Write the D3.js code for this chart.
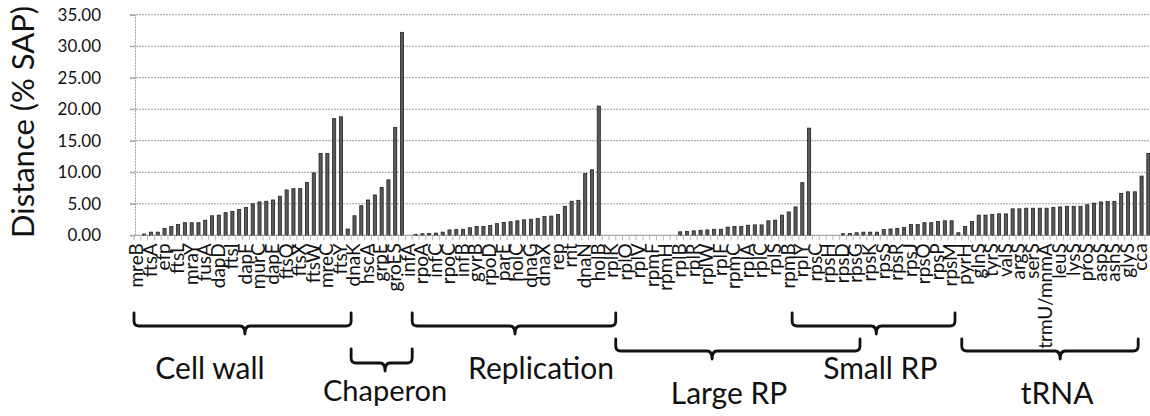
<!DOCTYPE html>
<html>
<head>
<meta charset="utf-8">
<script src="https://cdn.jsdelivr.net/npm/d3@7"></script>
<style>
  body { margin: 0; background: #fff; }
  svg { display: block; }
  text { font-family: Lato, "Open Sans", sans-serif; fill: #111; }
</style>
</head>
<body>
<svg id="chart" width="1150" height="416"></svg>
<script>
// Distance (% SAP) per gene, ordered by functional group (ascending within each group)
const values = [
  0,
  // cell wall
  0.2, 0.5, 0.5, 1.1, 1.4, 1.7, 2.0, 2.0, 2.0, 2.4,
  3.1, 3.2, 3.6, 3.8, 4.1, 4.4, 5.0, 5.3, 5.4, 5.6,
  6.2, 7.2, 7.4, 7.4, 8.4, 9.9, 13.0, 13.0, 18.5, 18.8,
  // chaperon
  1.0, 3.1, 4.7, 5.6, 6.4, 7.6, 8.8, 17.1, 32.2,
  0,
  // replication
  0.15, 0.25, 0.3, 0.35, 0.5, 0.85, 0.9, 0.95, 1.2, 1.4,
  1.4, 1.55, 1.85, 2.05, 2.15, 2.3, 2.45, 2.55, 2.65, 3.0,
  3.05, 3.3, 4.6, 5.4, 5.55, 9.8, 10.4, 20.5,
  // large ribosomal proteins
  0, 0, 0, 0, 0, 0, 0, 0, 0, 0, 0,
  0.55, 0.6, 0.7, 0.8, 0.85, 0.95, 0.95, 1.3, 1.4, 1.4,
  1.6, 1.65, 1.65, 2.3, 2.4, 3.2, 3.7, 4.5, 8.35, 17.0,
  // small ribosomal proteins
  0, 0, 0, 0,
  0.25, 0.3, 0.4, 0.5, 0.5, 0.5, 0.9, 1.0, 1.1, 1.25,
  1.7, 1.7, 2.0, 2.0, 2.2, 2.3, 2.3,
  // tRNA synthetases and others
  0.4, 1.4, 2.2, 3.2, 3.2, 3.3, 3.4, 3.4, 4.2, 4.2,
  4.3, 4.3, 4.3, 4.3, 4.4, 4.5, 4.6, 4.6, 4.6, 4.85,
  5.1, 5.3, 5.35, 5.4, 6.65, 6.9, 6.9, 9.4, 13.0
];

// Category labels shown on the axis (every second gene)
const tickLabels = [
  "mreB", "ftsA", "efp", "ftsL", "mraY", "fusA", "dapD", "ftsI", "dapF", "murC",
  "dapE", "ftsQ", "ftsX", "ftsW", "mreC", "ftsY", "dnaK", "hscA", "grpE", "groES",
  "infA", "rpoA", "infC", "rpoC", "infB", "gyrB", "rpoD", "parE", "holC", "dnaG",
  "dnaX", "rep", "rnt", "dnaN", "holB", "rplK", "rplO", "rplV", "rpmF", "rpmH",
  "rplB", "rplR", "rplW", "rplF", "rpmC", "rplA", "rplC", "rplS", "rpmB", "rplY",
  "rpsC", "rpsH", "rpsD", "rpsG", "rpsK", "rpsS", "rpsR", "rpsJ", "rpsO", "rpsP",
  "rpsM", "pyrH", "glnS", "tyrS", "valS", "argS", "serS", "trmU/mnmA", "leuS", "lysS",
  "proS", "aspS", "asnS", "glyS", "cca"
];
const labelStep = 2;

const yTicks = [0, 5, 10, 15, 20, 25, 30, 35];

// Functional groups: first and last category covered by each brace
const groupNames = ["Cell wall", "Chaperon", "Replication", "Large RP", "Small RP", "tRNA"];
const groupFirst = [0, 32, 41, 71, 97, 122];
const groupLast  = [31, 40, 70, 106, 120, 147];

// ---------------------------------------------------------------
const svg = d3.select("#chart");
const W = 1150;
const plotLeft = 135, plotTop = 14.7, plotBottom = 235.3;

const x = d3.scaleBand()
  .domain(d3.range(values.length))
  .range([134, 134 + values.length * 6.785])
  .padding(0);
const y = d3.scaleLinear().domain([0, 35]).range([plotBottom, plotTop]);
const bw = x.bandwidth();

// horizontal gridlines
svg.append("g")
  .selectAll("line")
  .data(yTicks)
  .join("line")
  .attr("x1", plotLeft - 5).attr("x2", W)
  .attr("y1", d => y(d)).attr("y2", d => y(d))
  .attr("stroke", "#9e9e9e")
  .attr("stroke-width", 1)
  .attr("stroke-dasharray", "2,1");

// y axis
const yAxis = svg.append("g")
  .attr("transform", `translate(${plotLeft},0)`)
  .call(d3.axisLeft(y).tickValues(yTicks).tickFormat(d3.format(".2f")).tickSize(5).tickPadding(29));
yAxis.select(".domain").attr("stroke", "#9e9e9e").attr("stroke-dasharray", "2,1");
yAxis.selectAll(".tick line").attr("stroke", "#9e9e9e");
yAxis.selectAll("text")
  .attr("font-size", 17)
  .style("font-family", "Lato, 'Open Sans', sans-serif")
  .attr("fill", "#111");

// category boundary ticks
svg.append("g")
  .selectAll("line")
  .data(d3.range(values.length + 1))
  .join("line")
  .attr("x1", i => 134 + i * bw).attr("x2", i => 134 + i * bw)
  .attr("y1", plotBottom).attr("y2", plotBottom + 5)
  .attr("stroke", "#a8a8a8")
  .attr("stroke-width", 0.8);

// bars
const barW = bw * 0.46;
svg.append("g")
  .selectAll("rect")
  .data(values.map((v, i) => ({ i, v })))
  .join("rect")
  .attr("x", d => x(d.i) + (bw - barW) / 2)
  .attr("y", d => y(d.v))
  .attr("width", barW)
  .attr("height", d => plotBottom - y(d.v))
  .attr("fill", "#5a5a5a")
  .attr("stroke", "#222")
  .attr("stroke-width", 0.8);

// x axis line
svg.append("line")
  .attr("x1", plotLeft).attr("x2", W)
  .attr("y1", plotBottom).attr("y2", plotBottom)
  .attr("stroke", "#9e9e9e")
  .attr("stroke-dasharray", "2,1");

// x axis labels, rotated
const xAxis = svg.append("g")
  .attr("transform", `translate(0,${plotBottom})`)
  .call(d3.axisBottom(x)
    .tickValues(d3.range(0, values.length, labelStep))
    .tickFormat(i => tickLabels[i / labelStep] || "")
    .tickSize(0));
xAxis.select(".domain").remove();
xAxis.selectAll("text")
  .attr("transform", "rotate(-90)")
  .attr("x", -8)
  .attr("y", -1)
  .attr("dy", "0.36em")
  .attr("text-anchor", "end")
  .attr("font-size", 19)
  .style("font-family", "Lato, 'Open Sans', sans-serif")
  .attr("fill", "#111");

// y axis title
svg.append("text")
  .attr("transform", `translate(22,122) rotate(-90)`)
  .attr("text-anchor", "middle")
  .attr("dominant-baseline", "central")
  .attr("font-size", 31)
  .text("Distance (% SAP)");

// group braces and names
// shifts are in category widths relative to the brace centre
const braceLayout = [
  { yTop: 313, yLine: 326, notch: 0.35, label: -4.8, base: 379 },
  { yTop: 349, yLine: 363, notch: 0.5,  label: 0.5,  base: 401 },
  { yTop: 313, yLine: 326, notch: 0.15, label: 4.0,  base: 379 },
  { yTop: 339, yLine: 351, notch: -3.8, label: -1.3, base: 404 },
  { yTop: 313, yLine: 326, notch: 0.4,  label: 1.0,  base: 379 },
  { yTop: 339, yLine: 351, notch: 1.5,  label: 1.05, base: 404 }
];

function bracePath(x1, x2, xn, yTop, yLine, depth) {
  const r = 5;
  return `M${x1},${yTop} L${x1},${yLine - r} Q${x1},${yLine} ${x1 + r},${yLine}` +
         ` L${xn - r},${yLine} Q${xn},${yLine} ${xn},${yLine + depth}` +
         ` Q${xn},${yLine} ${xn + r},${yLine} L${x2 - r},${yLine}` +
         ` Q${x2},${yLine} ${x2},${yLine - r} L${x2},${yTop}`;
}

const braces = svg.append("g");
groupNames.forEach((name, k) => {
  const L = braceLayout[k];
  const x1 = x(groupFirst[k]);
  const x2 = x(groupLast[k]) + bw;
  const c = (x1 + x2) / 2;
  const xn = c + L.notch * bw;
  braces.append("path")
    .attr("d", bracePath(x1, x2, xn, L.yTop, L.yLine, 8))
    .attr("fill", "none")
    .attr("stroke", "#111")
    .attr("stroke-width", 2.8)
    .attr("stroke-linecap", "round")
    .attr("stroke-linejoin", "round");
  braces.append("text")
    .attr("x", c + L.label * bw)
    .attr("y", L.base)
    .attr("text-anchor", "middle")
    .attr("font-size", k === 1 ? 29 : 30)
    .text(name);
});
</script>
</body>
</html>
